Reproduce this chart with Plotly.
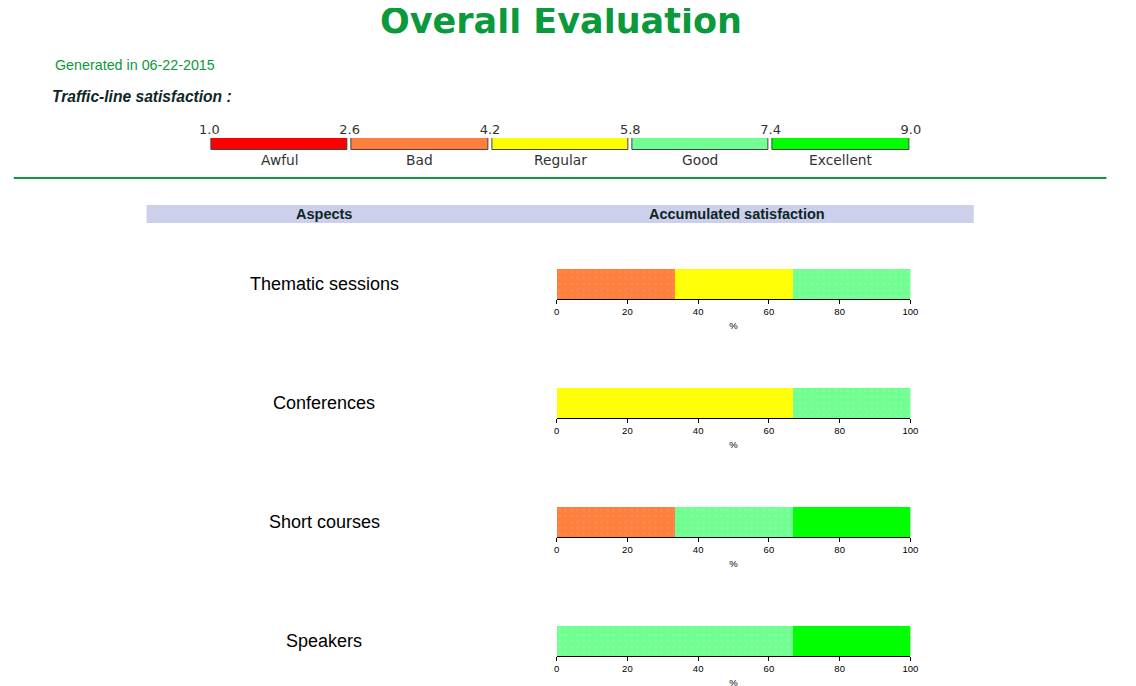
import plotly.graph_objects as go

# ---------------- data ----------------
levels = ["Awful", "Bad", "Regular", "Good", "Excellent"]
level_colors = ["#ff0000", "#ff7f3f", "#ffff00", "#70ff90", "#00ff00"]
level_dots = ["#ff0000", "#ff9a66", "#f4f466", "#98ffb0", "#00ff00"]
thresholds = [1.0, 2.6, 4.2, 5.8, 7.4, 9.0]
threshold_labels = ["1.0", "2.6", "4.2", "5.8", "7.4", "9.0"]

aspects = ["Thematic sessions", "Conferences", "Short courses", "Speakers"]
# percentage of answers per level (Awful, Bad, Regular, Good, Excellent)
pct_thematic = [0, 33.3, 33.3, 33.4, 0]
pct_conferences = [0, 0, 66.7, 33.3, 0]
pct_short = [0, 33.3, 0, 33.3, 33.4]
pct_speakers = [0, 0, 0, 66.7, 33.3]
aspect_values = [pct_thematic, pct_conferences, pct_short, pct_speakers]
pct_ticks = [0, 20, 40, 60, 80, 100]

title_text = "Overall Evaluation"
generated_text = "Generated in 06-22-2015"
traffic_text = "Traffic-line satisfaction :"
header_left = "Aspects"
header_right = "Accumulated satisfaction"

# ---------------- layout helpers ----------------
W, H = 1136, 686
# calibration of screen position -> figure position
SX, OX, OY = 0.9845, 17.2, 8


def px(x):
    return ((x - OX) / SX) / W


def py(y):
    return 1 - (y - OY) / H


fig = go.Figure()

# legend (traffic line) bar on its own axis
gap = 0.022
for i, lev in enumerate(levels):
    lo, hi = thresholds[i], thresholds[i + 1]
    fig.add_trace(go.Bar(
        y=[0], x=[hi - lo - 2 * gap], base=[lo + gap], orientation="h",
        marker=dict(color=level_colors[i], line=dict(color="#444444", width=1)),
        width=1, xaxis="x", yaxis="y", showlegend=False, hoverinfo="skip",
    ))

fig.update_layout(
    xaxis=dict(domain=[px(209), px(912)], range=[thresholds[0], thresholds[-1]],
               side="top", tickvals=thresholds, ticktext=threshold_labels,
               showgrid=False, zeroline=False, showline=False, ticks="",
               tickfont=dict(family="DejaVu Sans", size=13, color="#333333"),
               ticklabelstandoff=0, anchor="y", fixedrange=True),
    yaxis=dict(domain=[py(150), py(138)], range=[-0.5, 0.5], visible=False,
               anchor="x", fixedrange=True),
)

for i, lev in enumerate(levels):
    mid = (thresholds[i] + thresholds[i + 1]) / 2
    fig.add_annotation(x=mid, y=-0.5, xref="x", yref="y", text=lev,
                       showarrow=False, yanchor="top", yshift=0,
                       font=dict(family="DejaVu Sans", size=13.8, color="#333333"))

# aspect charts
bar_tops = [269, 388, 507, 626]
bar_h = 30
for k, (name, vals) in enumerate(zip(aspects, aspect_values)):
    xa = f"x{k + 2}"
    ya = f"y{k + 2}"
    base = 0
    for i, lev in enumerate(levels):
        v = vals[i]
        if v > 0:
            fig.add_trace(go.Bar(
                y=[0], x=[v], base=[base], orientation="h",
                marker=dict(color=level_colors[i], line=dict(width=0),
                            pattern=dict(shape=".", fgcolor=level_dots[i], bgcolor=level_colors[i],
                                         size=6, solidity=0.15)),
                width=1, xaxis=xa, yaxis=ya, showlegend=False,
                name=lev, hovertemplate=f"{name}<br>{lev}: %{{x:.1f}}%<extra></extra>",
            ))
        base += v
    top = bar_tops[k]
    fig.layout[f"xaxis{k + 2}"] = dict(
        domain=[px(557), px(911.5)], range=[0, 100], tickvals=pct_ticks,
        showgrid=False, zeroline=False, showline=True, linecolor="#000000", linewidth=1,
        ticks="outside", ticklen=4, tickcolor="#000000", tickwidth=1,
        tickfont=dict(family="Liberation Sans, Arial", size=9.5, color="#000000"),
        title=dict(text="%", font=dict(family="Liberation Sans, Arial", size=9.5, color="#000000"),
                   standoff=5),
        anchor=ya, fixedrange=True,
    )
    fig.layout[f"yaxis{k + 2}"] = dict(
        domain=[py(top + bar_h), py(top)], range=[-0.5, 0.5], visible=False,
        anchor=xa, fixedrange=True,
    )
    fig.add_annotation(x=px(324), y=py(top + 15), xref="paper", yref="paper",
                       text=name, showarrow=False, xanchor="center", yanchor="middle",
                       font=dict(family="Liberation Sans, Arial", size=18, color="#000000"))

# page texts and decorations
fig.add_annotation(x=px(561), y=py(21.5), xref="paper", yref="paper", text=f"<b>{title_text}</b>",
                   showarrow=False, xanchor="center", yanchor="middle",
                   font=dict(family="DejaVu Sans", size=35, color="#0a9a3c"))
fig.add_annotation(x=px(52), y=py(65), xref="paper", yref="paper", text=generated_text,
                   showarrow=False, xanchor="left", yanchor="middle",
                   font=dict(family="Liberation Sans, Arial", size=14.3, color="#0a9a3c"))
fig.add_annotation(x=px(49), y=py(96), xref="paper", yref="paper", text=f"<b><i>{traffic_text}</i></b>",
                   showarrow=False, xanchor="left", yanchor="middle",
                   font=dict(family="Liberation Sans, Arial", size=15.6, color="#0d2626"))

fig.add_shape(type="line", xref="paper", yref="paper", x0=px(13), x1=px(1108),
              y0=py(178), y1=py(178), line=dict(color="#0a9a3c", width=2))
fig.add_shape(type="rect", xref="paper", yref="paper", x0=px(146), x1=px(975),
              y0=py(223), y1=py(205), line=dict(width=0), fillcolor="#ccd0ea", layer="below")
fig.add_annotation(x=px(324), y=py(214), xref="paper", yref="paper", text=f"<b>{header_left}</b>",
                   showarrow=False, xanchor="center", yanchor="middle",
                   font=dict(family="Liberation Sans, Arial", size=14.5, color="#0d2626"))
fig.add_annotation(x=px(738), y=py(214), xref="paper", yref="paper", text=f"<b>{header_right}</b>",
                   showarrow=False, xanchor="center", yanchor="middle",
                   font=dict(family="Liberation Sans, Arial", size=14.5, color="#0d2626"))

fig.update_layout(
    width=W, height=H, margin=dict(l=0, r=0, t=0, b=0),
    paper_bgcolor="#ffffff", plot_bgcolor="rgba(0,0,0,0)",
    barmode="overlay", bargap=0, showlegend=False,
)

fig.write_html("out.html")
